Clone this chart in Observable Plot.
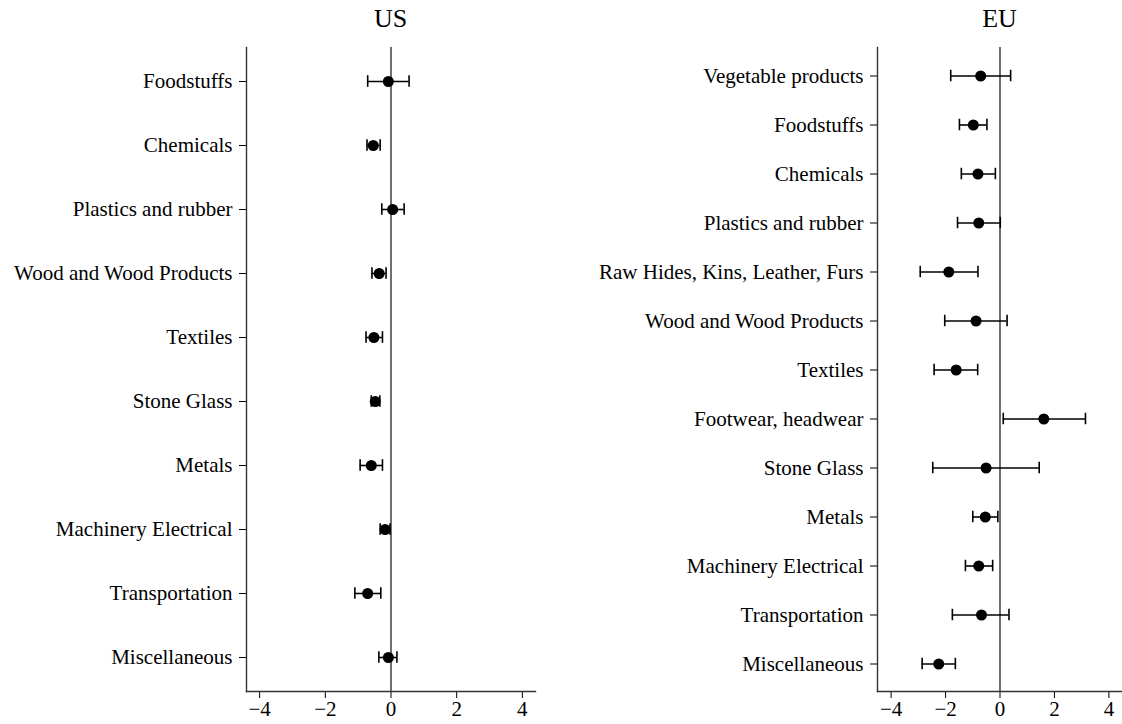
<!DOCTYPE html>
<html>
<head>
<meta charset="utf-8">
<script src="https://cdn.jsdelivr.net/npm/d3@7"></script>
<script src="https://cdn.jsdelivr.net/npm/@observablehq/plot@0.6"></script>
<style>
  body { margin: 0; background: #fff; }
  #wrap { position: relative; width: 1122px; height: 724px; font-family: "Liberation Serif", "Times New Roman", serif; }
  .panel { position: absolute; top: 0; }
  .title { position: absolute; top: 4px; font-size: 26px; line-height: 30px; text-align: center; color: #000; }
</style>
</head>
<body>
<div id="wrap"></div>
<script>
// ---- data ----
const usCategories = ["Foodstuffs", "Chemicals", "Plastics and rubber", "Wood and Wood Products", "Textiles",
  "Stone Glass", "Metals", "Machinery Electrical", "Transportation", "Miscellaneous"];
const usEst = [-0.08, -0.54, 0.05, -0.36, -0.52, -0.48, -0.60, -0.18, -0.71, -0.08];
const usLo  = [-0.71, -0.73, -0.28, -0.58, -0.76, -0.60, -0.94, -0.33, -1.10, -0.37];
const usHi  = [ 0.55, -0.33,  0.40, -0.15, -0.26, -0.34, -0.26, -0.03, -0.31,  0.18];

const euCategories = ["Vegetable products", "Foodstuffs", "Chemicals", "Plastics and rubber",
  "Raw Hides, Kins, Leather, Furs", "Wood and Wood Products", "Textiles", "Footwear, headwear",
  "Stone Glass", "Metals", "Machinery Electrical", "Transportation", "Miscellaneous"];
const euEst = [-0.71, -0.98, -0.81, -0.78, -1.88, -0.88, -1.61,  1.61, -0.51, -0.54, -0.78, -0.68, -2.25];
const euLo  = [-1.81, -1.49, -1.42, -1.56, -2.93, -2.03, -2.42,  0.12, -2.47, -1.00, -1.27, -1.75, -2.86];
const euHi  = [ 0.39, -0.48, -0.17,  0.01, -0.81,  0.26, -0.82,  3.14,  1.44, -0.08, -0.27,  0.33, -1.64];

const xTicks = [-4, -2, 0, 2, 4];
const usDomain = [-4.4, 4.4];
const euDomain = [-4.5, 4.5];

const fmt = d => d < 0 ? "\u2212" + Math.abs(d) : String(d);

const H = 724, MT = 47, MB = 33, CAP = 12;

function panel(cats, est, lo, hi, domain, opts) {
  const rows = cats.map((c, i) => ({cat: c, est: est[i], lo: lo[i], hi: hi[i]}));
  const bw = (H - MT - MB) / cats.length;
  const inset = (bw - CAP) / 2;
  return Plot.plot({
    width: opts.width,
    height: H,
    marginLeft: opts.marginLeft,
    marginRight: opts.marginRight,
    marginTop: MT,
    marginBottom: MB,
    style: {fontFamily: "'Liberation Serif', 'Times New Roman', serif", fontSize: "21px", color: "#000", background: "transparent"},
    x: {domain, ticks: xTicks, tickFormat: fmt, tickSize: 7, tickPadding: 3, label: null},
    y: {type: "band", domain: cats, padding: 0, tickSize: 7, tickPadding: 7, label: null},
    marks: [
      Plot.frame({anchor: "left", stroke: "#333", strokeWidth: 1.4}),
      Plot.frame({anchor: "bottom", stroke: "#333", strokeWidth: 1.4}),
      Plot.ruleX([0], {stroke: "#333", strokeWidth: 1.4}),
      Plot.ruleY(rows, {y: "cat", x1: "lo", x2: "hi", stroke: "#000", strokeWidth: 1.6}),
      Plot.tickX(rows, {x: "lo", y: "cat", insetTop: inset, insetBottom: inset, stroke: "#000", strokeWidth: 1.6}),
      Plot.tickX(rows, {x: "hi", y: "cat", insetTop: inset, insetBottom: inset, stroke: "#000", strokeWidth: 1.6}),
      Plot.dot(rows, {x: "est", y: "cat", r: 5.5, fill: "#000", stroke: "none"})
    ]
  });
}

const wrap = document.getElementById("wrap");

const us = panel(usCategories, usEst, usLo, usHi, usDomain, {width: 560, marginLeft: 246, marginRight: 25});
us.classList.add("panel");
us.style.left = "0px";
wrap.appendChild(us);

const eu = panel(euCategories, euEst, euLo, euHi, euDomain, {width: 562, marginLeft: 317, marginRight: 0});
eu.classList.add("panel");
eu.style.left = "560px";
wrap.appendChild(eu);

function addTitle(text, left, width) {
  const t = document.createElement("div");
  t.className = "title";
  t.textContent = text;
  t.style.left = left + "px";
  t.style.width = width + "px";
  wrap.appendChild(t);
}
addTitle("US", 246, 289);
addTitle("EU", 877, 245);
</script>
</body>
</html>
